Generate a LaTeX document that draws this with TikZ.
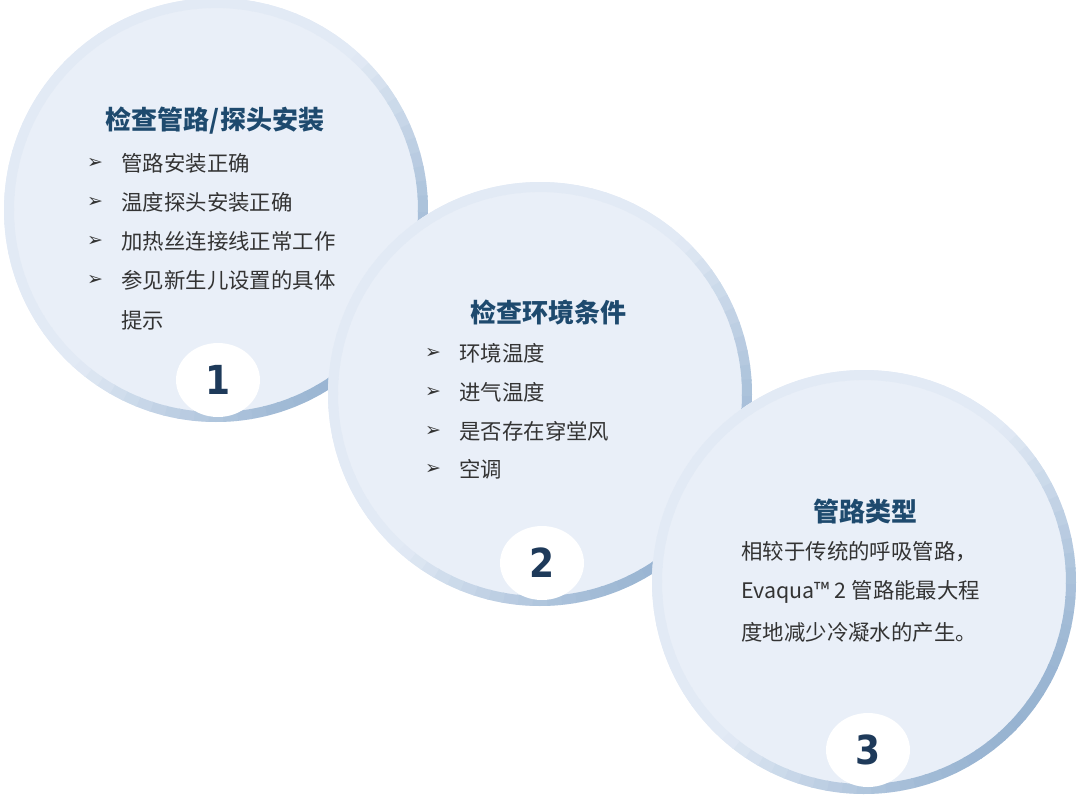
\documentclass[tikz,border=0pt]{standalone}
\usepackage{fontspec}
\usetikzlibrary{shapes.geometric}
\setmainfont{Noto Sans CJK SC}
\newfontfamily\numfont{DejaVu Sans Condensed}
\newfontfamily\symfont{DejaVu Sans}
\definecolor{fillc}{HTML}{E9EFF8}
\definecolor{ringc}{HTML}{97B3D1}
\definecolor{titlec}{HTML}{1E4A6E}
\definecolor{txtc}{HTML}{333333}
\definecolor{numc}{HTML}{1E3A5A}
\tikzset{
  title/.style={font=\fontsize{26}{28}\selectfont\bfseries, text=titlec},
  item/.style={font=\fontsize{21.4}{23}\selectfont, text=txtc, anchor=west},
  bul/.style={font=\symfont\fontsize{19}{21}\selectfont, text=txtc},
  badge/.style={ellipse, fill=white, minimum width=84pt, minimum height=74pt, inner sep=0pt,
    font=\numfont\bfseries\fontsize{40}{42}\selectfont, text=numc},
}
\newcommand{\ringcircle}[3]{%
  \fill[fillc] (#1,#2) circle (#3);
  \foreach \a in {0,4,...,356}{
    \pgfmathsetmacro{\w}{max(0,cos(\a-40))}
    \pgfmathtruncatemacro{\pc}{8+92*\w}
    \draw[ringc!\pc!fillc, line width=10pt]
      ([shift={(\a:#3-5)}]#1,#2) arc (\a:\a+4.5:#3-5);
  }
}
\begin{document}
\begin{tikzpicture}[x=1pt,y=-1pt]
\useasboundingbox (0,0) rectangle (1080,807);
\ringcircle{216}{210}{212}
\node[badge] (b1) at (218,380) {1};
\ringcircle{540}{394}{212}
\node[badge] (b2) at (542,563) {2};
\ringcircle{864}{582}{212}
\node[badge] (b3) at (868,750) {3};
% circle 1
\node[title] (t1) at (215,121) {检查管路/探头安装};
\foreach \y/\t [count=\i] in {163/管路安装正确,202/温度探头安装正确,241/加热丝连接线正常工作,280/参见新生儿设置的具体}{
  \node[bul] (a1\i) at (95,\y) {➢};
  \node[item] (i1\i) at (118,\y) {\t};
}
\node[item] (i15) at (118,320) {提示};
% circle 2
\node[title] (t2) at (548,312) {检查环境条件};
\foreach \y/\t [count=\i] in {353/环境温度,392/进气温度,431/是否存在穿堂风,469/空调}{
  \node[bul] (a2\i) at (433,\y) {➢};
  \node[item] (i2\i) at (456,\y) {\t};
}
% circle 3
\node[title] (t3) at (865,512) {管路类型};
\node[item] (i31) at (738,552) {相较于传统的呼吸管路，};
\node[item] (i32) at (738,592) {Evaqua™ 2 管路能最大程};
\node[item] (i33) at (738,632) {度地减少冷凝水的产生。};
\end{tikzpicture}
\end{document}
